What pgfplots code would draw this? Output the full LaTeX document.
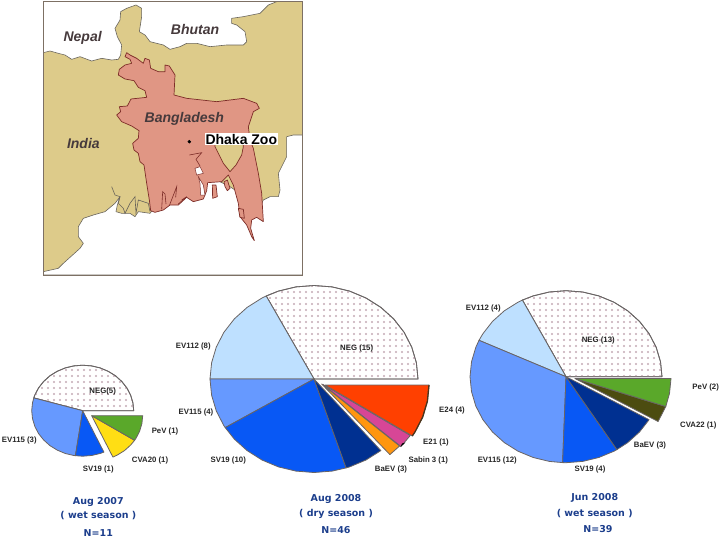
\documentclass[border=0pt]{standalone}
\usepackage{fontspec}
\setmainfont{Liberation Sans}
\newfontfamily\capfont{DejaVu Sans}
\usepackage{pgfplots}
\pgfplotsset{compat=1.18}
\usetikzlibrary{patterns}
\definecolor{tan}{RGB}{221,203,138}
\definecolor{bang}{RGB}{224,150,132}
\definecolor{bangline}{RGB}{125,45,40}
\definecolor{coast}{RGB}{105,100,90}
\definecolor{maptext}{RGB}{70,58,60}
\definecolor{frame}{RGB}{125,112,100}
\definecolor{rim}{RGB}{105,100,100}
\definecolor{dotc}{RGB}{196,170,180}
\definecolor{ev112}{RGB}{190,224,255}
\definecolor{ev115}{RGB}{102,153,255}
\definecolor{sv19}{RGB}{8,88,245}
\definecolor{baev}{RGB}{0,48,145}
\definecolor{pev}{RGB}{90,168,42}
\definecolor{cva20}{RGB}{255,222,20}
\definecolor{cva22}{RGB}{76,76,16}
\definecolor{e24}{RGB}{255,64,0}
\definecolor{e21}{RGB}{215,70,150}
\definecolor{sabin}{RGB}{255,150,15}
\definecolor{caption}{RGB}{28,62,140}
\pgfdeclarepatternformonly{negdots}{\pgfqpoint{-2pt}{-2pt}}{\pgfqpoint{2pt}{2pt}}{\pgfqpoint{6pt}{6pt}}{%
  \pgfpathcircle{\pgfpointorigin}{1.15pt}\pgfusepath{fill}}
\pgfplotsset{
  sheet/.style={at={(0,0)},anchor=south west,scale only axis,width=720pt,height=538pt,hide axis,y dir=reverse,clip=false},
  wedge/.style={fill=#1,draw=rim,line width=0.8pt,line join=round},
  neg/.style={fill=white,draw=rim,line width=0.8pt,line join=round,postaction={pattern=negdots,pattern color=dotc}},
  water/.style={fill=white,draw=coast,line width=0.6pt,line join=round},
  land/.style={fill=bang,draw=bangline,line width=0.7pt,line join=round},
}
\newcommand\pl[2]{\node[inner sep=0pt,font=\fontsize{7.8}{8}\selectfont\bfseries,text=black!85] at (axis cs:#1) {#2};}
\newcommand\cpt[2]{\node[inner sep=0pt,font=\capfont\fontsize{9.5}{10}\selectfont\bfseries,text=caption] at (axis cs:#1) {#2};}
\newcommand\maplab[2]{\node[inner sep=0pt,font=\fontsize{14}{14}\selectfont\bfseries\itshape,text=maptext] at (axis cs:#1) {#2};}
\begin{document}
\begin{tikzpicture}
\path[use as bounding box] (0,0) rectangle (720pt,538pt);
% map, coordinates are 3x crop units with origin at (30,0)
\begin{axis}[sheet,xmin=-90,xmax=2070,ymin=0,ymax=1614]
\addplot[fill=tan,draw=none] coordinates {(40,5) (818,5) (818,825) (40,825)} --cycle;
% white land to the north
\addplot[water] coordinates {(40,5) (40,158) (60,153) (85,160) (105,165) (125,178) (150,170) (185,183) (215,175) (245,180) (265,178) (272,165) (275,135) (262,110) (255,85) (270,60) (272,35) (290,25) (318,15) (335,25) (335,50) (328,95) (345,105) (360,125) (400,135) (420,148) (450,140) (470,130) (500,130) (540,140) (590,135) (640,135) (650,125) (645,95) (620,75) (605,70) (605,55) (640,50) (690,40) (715,15) (740,5)} --cycle;
% sea
\addplot[water] coordinates {(40,815) (85,805) (100,790) (150,745) (160,730) (145,710) (145,680) (160,655) (190,645) (225,635) (255,610) (270,590) (262,615) (258,635) (275,640) (300,640) (315,650) (325,635) (360,640) (420,560) (520,520) (600,560) (690,620) (700,600) (720,590) (745,590) (750,570) (745,520) (770,470) (770,410) (790,405) (818,405) (818,825) (40,825)} --cycle;
% creeks of the western delta
\addplot[draw=coast,line width=0.6pt] coordinates {(245,560) (255,585) (270,590) (265,610) (280,625) (285,640) (300,610) (315,590) (318,640) (325,600) (355,610) (360,635)};
% Bangladesh
\addplot[land] coordinates {(290,158) (285,170) (300,178) (305,190) (285,195) (268,208) (265,225) (285,237) (312,242) (325,262) (345,272) (350,292) (303,297) (292,318) (268,320) (272,335) (260,345) (275,365) (305,378) (327,392) (325,415) (308,430) (312,450) (325,460) (330,485) (342,495) (350,550) (358,600) (362,632) (375,637) (400,630) (420,615) (445,615) (470,592) (490,605) (520,597) (530,572) (533,548) (575,545) (595,525) (610,555) (625,610) (630,650) (650,675) (665,710) (673,722) (662,685) (665,660) (680,652) (700,665) (695,580) (685,520) (670,445) (660,420) (655,380) (670,335) (688,325) (680,310) (640,295) (560,305) (470,295) (432,285) (435,225) (418,198) (405,195) (405,215) (385,215) (362,205) (358,180) (345,175) (340,190) (320,175) (300,165)} --cycle;
\addplot[fill=tan,draw=bangline,line width=0.7pt] coordinates {(555,440) (580,490) (600,515) (618,495) (635,465) (640,440) (640,425) (555,425)} --cycle;
\addplot[fill=white,draw=bangline,line width=0.5pt] coordinates {(495,505) (510,500) (520,520) (500,525)} --cycle;
\addplot[fill=white,draw=bangline,line width=0.5pt] coordinates {(505,530) (520,555) (525,585) (512,585) (510,550)} --cycle;
\addplot[draw=bangline,line width=0.6pt] coordinates {(478,465) (515,458) (498,478) (510,498)};
\addplot[draw=bangline,line width=0.6pt] coordinates {(395,628) (398,575) (405,582) (408,612)};
\addplot[draw=bangline,line width=0.6pt] coordinates {(418,617) (440,560) (437,592)};
\addplot[draw=bangline,line width=0.6pt] coordinates {(445,612) (470,590) (455,600)};
\addplot[land] coordinates {(582,545) (592,540) (600,565) (592,572) (585,560)} --cycle;
\addplot[land] coordinates {(547,555) (558,555) (562,590) (548,595)} --cycle;
\addplot[land] coordinates {(625,625) (640,628) (643,655) (630,652)} --cycle;
\addplot[draw=frame,line width=1pt] coordinates {(40,5) (818,5) (818,825) (40,825)} --cycle;
\addplot[only marks,mark=*,mark size=1.5pt,black] coordinates {(478,425)};
\maplab{158,115}{Nepal}
\maplab{495,88}{Bhutan}
\maplab{463,356}{Bangladesh}
\maplab{160,430}{India}
\node[fill=white,inner sep=1pt,font=\fontsize{14}{14}\selectfont\bfseries,text=black] at (axis cs:634,418) {Dhaka Zoo};
\end{axis}
% pies, coordinates in image pixels
\begin{axis}[sheet,xmin=0,xmax=720,ymin=0,ymax=538]
% Aug 2007
\addplot[neg] coordinates {(82.7,410.7) (133.7,410.7) (132.9,402.8) (130.6,395.1) (126.9,388.0) (121.8,381.5) (115.5,375.8) (108.2,371.3) (100.1,367.9) (91.6,365.9) (82.7,365.2) (73.8,365.9) (65.3,367.9) (57.2,371.3) (49.9,375.8) (43.6,381.5) (38.5,388.0) (34.8,395.1) (33.8,397.9)} --cycle;
\addplot[wedge=ev115] coordinates {(82.7,410.7) (33.8,397.9) (32.5,402.8) (31.7,410.7) (32.5,418.6) (34.8,426.3) (38.5,433.5) (43.6,439.9) (49.9,445.6) (57.2,450.1) (65.3,453.5) (73.8,455.5) (75.4,455.7)} --cycle;
\addplot[wedge=sv19] coordinates {(82.7,410.7) (75.4,455.7) (82.7,456.2) (91.6,455.5) (100.1,453.5) (103.9,452.1)} --cycle;
\addplot[wedge=cva20] coordinates {(91.7,415.7) (112.9,457.1) (117.2,455.1) (124.5,450.6) (130.8,444.9) (134.6,440.3)} --cycle;
\addplot[wedge=pev] coordinates {(91.7,415.7) (134.6,440.3) (135.9,438.5) (139.6,431.3) (141.9,423.6) (142.7,415.7)} --cycle;
% Aug 2008
\addplot[neg] coordinates {(314,379) (418,379) (416.4,362.8) (411.7,347.0) (404.1,332.3) (393.7,318.9) (380.9,307.4) (366,298) (349.6,291.1) (332.1,286.9) (314,285.5) (295.9,286.9) (278.4,291.1) (266.2,296.0)} --cycle;
\addplot[wedge=ev112] coordinates {(314,379) (266.2,296.0) (262,298) (247.1,307.4) (234.3,318.9) (223.9,332.3) (216.3,347.0) (211.6,362.8) (210,379)} --cycle;
\addplot[wedge=ev115] coordinates {(314,379) (210,379) (211.6,395.2) (216.3,411) (223.9,425.75) (225.2,427.6)} --cycle;
\addplot[wedge=sv19] coordinates {(314,379) (225.2,427.6) (234.3,439.1) (247.1,450.6) (262,460) (278.4,466.9) (295.9,471.1) (314,472.5) (332.1,471.1) (346.1,467.9)} --cycle;
\addplot[wedge=baev] coordinates {(314,379) (346.1,467.9) (349.6,466.9) (366,460) (380.9,450.6)} --cycle;
\addplot[wedge=sabin] coordinates {(321.7,384) (389.9,454.6) (399.6,446)} --cycle;
\addplot[wedge=e21] coordinates {(323,384.5) (400.9,446.5) (410.3,435.5)} --cycle;
\addplot[wedge=e24] coordinates {(325,385) (412.3,436) (415.1,431.75) (422.7,417) (427.4,401.2) (429,385)} --cycle;
\addplot[draw=black!60!brown,line width=1.3pt] coordinates {(412.3,436) (415.1,431.75) (422.7,417) (427.4,401.2) (429,385)};
\addplot[fill=black,draw=none] coordinates {(400.5,447) (405.5,442.5) (402,443.5)} --cycle;
% Jun 2008
\addplot[neg] coordinates {(566,376.7) (662,376.7) (660.5,361.8) (656.2,347.3) (649.1,333.7) (639.5,321.4) (627.7,310.8) (614,302.2) (598.8,295.9) (582.7,292) (566,290.7) (549.3,292) (533.2,295.9) (522.4,300.1)} --cycle;
\addplot[wedge=ev112] coordinates {(566,376.7) (522.4,300.1) (518,302.2) (504.3,310.8) (492.5,321.4) (482.9,333.7) (479,340.3)} --cycle;
\addplot[wedge=ev115] coordinates {(566,376.7) (479,340.3) (475.8,347.3) (471.5,361.8) (470,376.7) (471.5,391.6) (475.8,406.1) (482.9,419.7) (492.5,432) (504.3,442.6) (518,451.2) (533.2,457.5) (549.3,461.4) (562.6,462.6)} --cycle;
\addplot[wedge=sv19] coordinates {(566,376.7) (562.6,462.6) (566,462.7) (582.7,461.4) (598.8,457.5) (614,451.2) (616.9,449.6)} --cycle;
\addplot[wedge=baev] coordinates {(566,376.7) (616.9,449.6) (627.7,442.6) (639.5,432) (649.1,419.7)} --cycle;
\addplot[wedge=cva22] coordinates {(575,378.5) (658.1,421.5) (665.8,406.5)} --cycle;
\addplot[wedge=pev] coordinates {(575,378.5) (665.8,406.5) (669.5,393.4) (671,378.5)} --cycle;
% labels
\pl{102.7,391.7}{NEG(5)}
\pl{19.3,440.7}{EV115 (3)}
\pl{98.3,469.3}{SV19 (1)}
\pl{150,460.7}{CVA20 (1)}
\pl{165,431.7}{PeV (1)}
\cpt{98.3,501.7}{Aug 2007}
\cpt{98.3,516}{( wet season )}
\cpt{98.3,533}{N=11}
\pl{193.3,346.7}{EV112 (8)}
\pl{356.7,348.3}{NEG (15)}
\pl{196,412.3}{EV115 (4)}
\pl{228.3,460}{SV19 (10)}
\pl{391,469}{BaEV (3)}
\pl{428.3,460}{Sabin 3 (1)}
\pl{436,442.7}{E21 (1)}
\pl{452,410}{E24 (4)}
\cpt{336,499.3}{Aug 2008}
\cpt{336,514}{( dry season )}
\cpt{336,530}{N=46}
\pl{483.3,308.3}{EV112 (4)}
\pl{598.3,340}{NEG (13)}
\pl{705.7,387.7}{PeV (2)}
\pl{698.3,425.7}{CVA22 (1)}
\pl{650,445}{BaEV (3)}
\pl{590,469.3}{SV19 (4)}
\pl{497.3,460}{EV115 (12)}
\cpt{594.7,498.3}{Jun 2008}
\cpt{594.7,514}{( wet season )}
\cpt{598,529}{N=39}
\end{axis}
\end{tikzpicture}
\end{document}
